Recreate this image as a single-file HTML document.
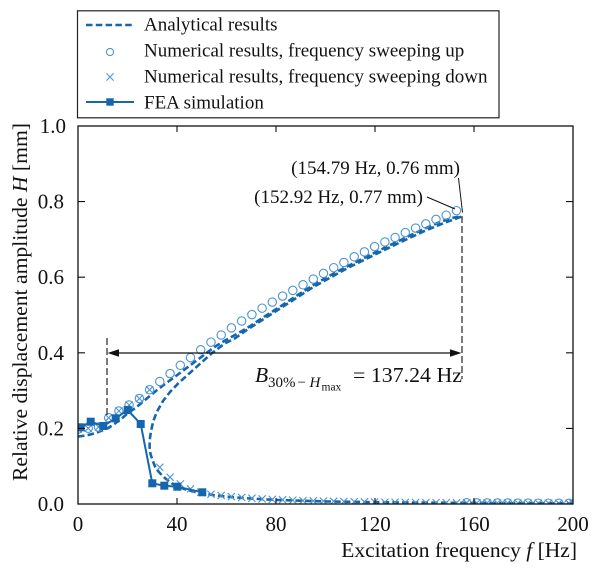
<!DOCTYPE html>
<html><head><meta charset="utf-8"><style>
html,body{margin:0;padding:0;background:#fff;}
svg{display:block;font-family:"Liberation Serif","DejaVu Serif",serif;}
</style></head><body>
<svg width="600" height="575" viewBox="0 0 600 575" xmlns="http://www.w3.org/2000/svg">
<defs>
<clipPath id="c"><rect x="78" y="126" width="495" height="378"/></clipPath>
<path id="xm" d="M-3.6,-3.6L3.6,3.6M-3.6,3.6L3.6,-3.6"/>
</defs>
<rect width="600" height="575" fill="#fff"/>

<!-- legend -->
<rect x="77.5" y="10.8" width="421.5" height="107" fill="#fff" stroke="#222" stroke-width="1.2"/>
<line x1="86" y1="25" x2="134" y2="25" stroke="#1666ad" stroke-width="2.6" stroke-dasharray="6.5 3.3"/>
<circle cx="110" cy="52" r="3.6" fill="none" stroke="#4d94d3" stroke-width="1.1"/>
<use href="#xm" x="110" y="77" stroke="#4d94d3" stroke-width="1.1" transform="translate(0,0)"/>
<line x1="86" y1="102" x2="134" y2="102" stroke="#1666ad" stroke-width="2"/>
<rect x="106.3" y="98.3" width="7.4" height="7.4" fill="#1666ad"/>
<g font-size="19" fill="#111">
<text x="144" y="30.7">Analytical results</text>
<text x="144" y="56.6">Numerical results, frequency sweeping up</text>
<text x="144" y="82.5">Numerical results, frequency sweeping down</text>
<text x="144" y="108.3">FEA simulation</text>
</g>

<!-- data -->
<g clip-path="url(#c)">
<g fill="none" stroke="#1666ad" stroke-width="2.6" stroke-dasharray="6.5 3.2" stroke-linejoin="round">
<polyline points="78,436.5 86,435.5 95,433.3 102,430.5 108.3,428 115,423.5 121.7,418.5 128,413 135,408.3 145,400 155,391.7 165,384 175,376.7 185,369.2 195,361.7 205,354.2 215,346.7 225,340.5 235,335 246.7,328.3 263,317.5 280,306.7 296.5,295.8 313.3,285 330,275.5 346.7,266.7 361,259.5 375,252.6 387,246.5 399.8,240.5 412,234.5 424.5,228.8 434,224.5 444.3,220.5 452,218 457,217 461.1,216.7"/>
<polyline points="461.1,216.7 455,219 444,223 424.5,231 399.8,242.5 375,254.5 346.7,268.5 313.3,287 280,308.5 246.7,330 235,338.3 225,343.3 211.7,353.3 195,368.3 178.3,383.3 170,392 163,401 157,411.5 153.3,421 151,431 149.7,440 149.6,447 150.5,454 152.5,460 155,466.5 158,471 161.7,475 166,479 171.7,483.3 178,486.5 185,489.3 193,491.5 201.7,493.3 214,495.2 226.5,496.7 251.3,498.6 276,499.9 300,500.7 325.5,501.4 375,502.2 449,502.8 573,503.3"/>
</g>

<g fill="none" stroke="#4d94d3" stroke-width="1.1">
<circle cx="78" cy="429.2" r="4.2"/><circle cx="88.2" cy="428.3" r="4.2"/><circle cx="98.5" cy="427" r="4.2"/><circle cx="108.7" cy="417.8" r="4.2"/><circle cx="118.9" cy="411" r="4.2"/><circle cx="129.1" cy="405" r="4.2"/><circle cx="139.4" cy="398.5" r="4.2"/><circle cx="149.6" cy="389.8" r="4.2"/><circle cx="159.8" cy="381.5" r="4.2"/><circle cx="170.1" cy="373.6" r="4.2"/><circle cx="180.3" cy="365.3" r="4.2"/><circle cx="190.5" cy="357.7" r="4.2"/><circle cx="200.7" cy="349.8" r="4.2"/><circle cx="211" cy="342.2" r="4.2"/><circle cx="221.2" cy="335" r="4.2"/><circle cx="231.4" cy="327.9" r="4.2"/><circle cx="241.7" cy="321" r="4.2"/><circle cx="251.9" cy="314.6" r="4.2"/><circle cx="262.1" cy="308.2" r="4.2"/><circle cx="272.3" cy="302.1" r="4.2"/><circle cx="282.6" cy="296.1" r="4.2"/><circle cx="292.8" cy="290.4" r="4.2"/><circle cx="303" cy="284.8" r="4.2"/><circle cx="313.3" cy="279.1" r="4.2"/><circle cx="323.5" cy="273.4" r="4.2"/><circle cx="333.7" cy="267.7" r="4.2"/><circle cx="343.9" cy="262.5" r="4.2"/><circle cx="354.2" cy="256.8" r="4.2"/><circle cx="364.4" cy="251.9" r="4.2"/><circle cx="374.6" cy="246.6" r="4.2"/><circle cx="384.9" cy="242" r="4.2"/><circle cx="395.1" cy="237.5" r="4.2"/><circle cx="405.3" cy="232.6" r="4.2"/><circle cx="415.6" cy="228.1" r="4.2"/><circle cx="425.8" cy="223.9" r="4.2"/><circle cx="436" cy="219.4" r="4.2"/><circle cx="446.2" cy="215.2" r="4.2"/><circle cx="456.5" cy="210.7" r="4.2"/>
<circle cx="466.7" cy="502.8" r="4.2"/><circle cx="476.9" cy="502.9" r="4.2"/><circle cx="487.2" cy="502.9" r="4.2"/><circle cx="497.4" cy="503" r="4.2"/><circle cx="507.6" cy="503" r="4.2"/><circle cx="517.8" cy="503.1" r="4.2"/><circle cx="528.1" cy="503.1" r="4.2"/><circle cx="538.3" cy="503.2" r="4.2"/><circle cx="548.5" cy="503.2" r="4.2"/><circle cx="558.8" cy="503.3" r="4.2"/><circle cx="569" cy="503.3" r="4.2"/>
</g>

<g fill="none" stroke="#4d94d3" stroke-width="1.1">
<use href="#xm" x="78" y="429.2"/><use href="#xm" x="88.2" y="428.3"/><use href="#xm" x="98.5" y="427"/><use href="#xm" x="108.7" y="417.8"/><use href="#xm" x="118.9" y="411"/><use href="#xm" x="129.1" y="405"/><use href="#xm" x="139.4" y="398.5"/><use href="#xm" x="149.6" y="389.8"/>
<use href="#xm" x="159.8" y="467.3"/><use href="#xm" x="170.1" y="477.2"/><use href="#xm" x="180.3" y="484"/><use href="#xm" x="190.5" y="488.9"/><use href="#xm" x="200.7" y="492.3"/><use href="#xm" x="211" y="494.2"/><use href="#xm" x="221.2" y="495.5"/><use href="#xm" x="231.4" y="496.6"/><use href="#xm" x="241.7" y="497.5"/><use href="#xm" x="251.9" y="498.3"/><use href="#xm" x="262.1" y="498.9"/><use href="#xm" x="272.3" y="499.4"/><use href="#xm" x="282.6" y="499.8"/><use href="#xm" x="292.8" y="500.2"/><use href="#xm" x="303" y="500.6"/><use href="#xm" x="313.3" y="500.9"/><use href="#xm" x="323.5" y="501.1"/><use href="#xm" x="333.7" y="501.3"/><use href="#xm" x="343.9" y="501.5"/><use href="#xm" x="354.2" y="501.7"/><use href="#xm" x="364.4" y="501.9"/><use href="#xm" x="374.6" y="502"/><use href="#xm" x="384.9" y="502.2"/><use href="#xm" x="395.1" y="502.3"/><use href="#xm" x="405.3" y="502.4"/><use href="#xm" x="415.6" y="502.5"/><use href="#xm" x="425.8" y="502.6"/><use href="#xm" x="436" y="502.6"/><use href="#xm" x="446.2" y="502.7"/><use href="#xm" x="456.5" y="502.8"/><use href="#xm" x="466.7" y="502.8"/><use href="#xm" x="476.9" y="502.9"/><use href="#xm" x="487.2" y="502.9"/><use href="#xm" x="497.4" y="503"/><use href="#xm" x="507.6" y="503"/><use href="#xm" x="517.8" y="503.1"/><use href="#xm" x="528.1" y="503.1"/><use href="#xm" x="538.3" y="503.2"/><use href="#xm" x="548.5" y="503.2"/><use href="#xm" x="558.8" y="503.3"/><use href="#xm" x="569" y="503.3"/><use href="#xm" x="573" y="503.3"/>
</g>

<polyline fill="none" stroke="#1666ad" stroke-width="2" points="80.5,427.3 90.7,421.7 103.3,426 115.7,418.3 127.7,410 140.7,424 152.3,483.3 164.3,485.7 177.3,486.7 202.3,492.3"/>
<g fill="#1666ad">
<rect x="76.5" y="423.3" width="8" height="8"/><rect x="86.7" y="417.7" width="8" height="8"/><rect x="99.3" y="422" width="8" height="8"/><rect x="111.7" y="414.3" width="8" height="8"/><rect x="123.7" y="406" width="8" height="8"/><rect x="136.7" y="420" width="8" height="8"/><rect x="148.3" y="479.3" width="8" height="8"/><rect x="160.3" y="481.7" width="8" height="8"/><rect x="173.3" y="482.7" width="8" height="8"/><rect x="198.3" y="488.3" width="8" height="8"/>
</g>
</g>

<!-- annotation lines -->
<g stroke="#111" fill="none">
<line x1="107" y1="338" x2="107" y2="416" stroke-width="1.1" stroke-dasharray="7 3"/>
<line x1="462" y1="216" x2="462" y2="379" stroke-width="1.1" stroke-dasharray="7 3"/>
<line x1="116" y1="353" x2="453" y2="353" stroke-width="1.3"/>
<line x1="458.5" y1="178" x2="462.5" y2="212.5" stroke-width="1"/>
<line x1="427" y1="197" x2="455" y2="209" stroke-width="1"/>
</g>
<path d="M107.5,353 L119,349.3 L119,356.7 Z" fill="#111"/>
<path d="M461.5,353 L450,349.3 L450,356.7 Z" fill="#111"/>

<g fill="#111">
<text x="460" y="174" font-size="19" text-anchor="end">(154.79 Hz, 0.76 mm)</text>
<text x="423" y="203" font-size="19" text-anchor="end">(152.92 Hz, 0.77 mm)</text>
<text x="255" y="382" font-size="21.5" font-style="italic">B</text>
<text x="268" y="387" font-size="15">30%</text>
<text x="297.5" y="387" font-size="15">−</text>
<text x="309.5" y="387" font-size="15" font-style="italic">H</text>
<text x="321.5" y="390.5" font-size="11.5">max</text>
<text x="353" y="382" font-size="21.5" textLength="109" lengthAdjust="spacingAndGlyphs">= 137.24 Hz</text>
</g>

<!-- axes frame and ticks -->
<rect x="78" y="126" width="495" height="378" fill="none" stroke="#111" stroke-width="1.3"/>
<g stroke="#111" stroke-width="1.1">
<path d="M177,504v-6M276,504v-6M375,504v-6M474,504v-6M177,126v6M276,126v6M375,126v6M474,126v6"/>
<path d="M78,428.4h7M78,352.8h7M78,277.2h7M78,201.6h7M573,428.4h-7M573,352.8h-7M573,277.2h-7M573,201.6h-7"/>
</g>

<g font-size="21" fill="#111" text-anchor="middle">
<text x="78" y="531">0</text>
<text x="177" y="531">40</text>
<text x="276" y="531">80</text>
<text x="375" y="531">120</text>
<text x="474" y="531">160</text>
<text x="573" y="531">200</text>
</g>
<g font-size="21" fill="#111" text-anchor="end">
<text x="64" y="511">0.0</text>
<text x="64" y="435.4">0.2</text>
<text x="64" y="359.8">0.4</text>
<text x="64" y="284.2">0.6</text>
<text x="64" y="208.6">0.8</text>
<text x="66" y="133">1.0</text>
</g>

<text x="577" y="557" font-size="21.5" fill="#111" text-anchor="end">Excitation frequency <tspan font-style="italic">f</tspan> [Hz]</text>
<text transform="translate(27,302) rotate(-90)" font-size="21.5" fill="#111" text-anchor="middle" textLength="358" lengthAdjust="spacingAndGlyphs">Relative displacement amplitude <tspan font-style="italic">H</tspan> [mm]</text>
</svg>
</body></html>
